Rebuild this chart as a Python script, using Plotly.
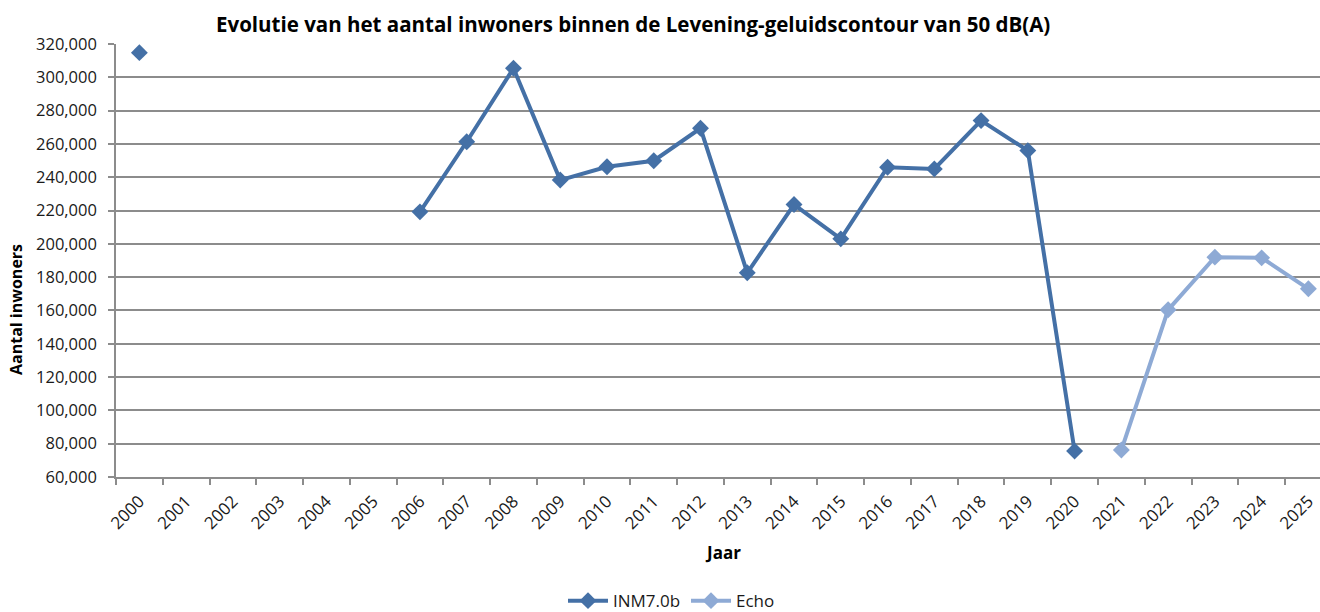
import plotly.graph_objects as go

# Years on the category axis
years = [str(y) for y in range(2000, 2026)]

# Inhabitants inside the 50 dB(A) contour, INM7.0b model (None = no value)
inm_values = [314800, None, None, None, None, None, 219200, 261300, 305400, 238300,
              246300, 249900, 269400, 182600, 223600, 203000, 246000, 245000, 274000,
              256000, 75600, None, None, None, None, None]

# Inhabitants inside the 50 dB(A) contour, Echo model
echo_values = [None] * 21 + [76200, 160400, 192000, 191600, 173000]

# Y axis tick values
y_ticks = list(range(60000, 320001, 20000))

INM_COLOR = "#4470a6"
ECHO_COLOR = "#8eaad5"
GRID = "#8c8c8c"
FONT = "Open Sans"

PLOT_W = 1320 - 116
PLOT_H = 612 - 44 - 135

fig = go.Figure()
fig.add_trace(go.Scatter(
    x=years, y=inm_values, name="INM7.0b", mode="lines+markers",
    line=dict(color=INM_COLOR, width=4),
    marker=dict(symbol="diamond", size=13, color=INM_COLOR),
    connectgaps=False, cliponaxis=False,
))
fig.add_trace(go.Scatter(
    x=years, y=echo_values, name="Echo", mode="lines+markers",
    line=dict(color=ECHO_COLOR, width=4),
    marker=dict(symbol="diamond", size=13, color=ECHO_COLOR),
    connectgaps=False, cliponaxis=False,
))

fig.update_layout(
    width=1320, height=612,
    margin=dict(l=116, r=0, t=44, b=135, autoexpand=False),
    paper_bgcolor="white", plot_bgcolor="white",
    font=dict(family=FONT, size=16, color="#1a1a1a"),
    showlegend=True,
    legend=dict(orientation="h", x=(563 - 116) / PLOT_W, xanchor="left", y=-0.245, yanchor="top",
                font=dict(size=17), itemwidth=40, tracegroupgap=0,
                entrywidth=68, entrywidthmode="pixels"),
)

fig.update_xaxes(
    type="category", categoryorder="array", categoryarray=years,
    range=[-0.5, 25.248], automargin=False,
    tickangle=-45, tickson="boundaries", ticks="outside", ticklen=6, tickwidth=1.5,
    tickcolor=GRID, showline=True, linecolor=GRID, linewidth=1.5,
    showgrid=False, tickfont=dict(size=17, family=FONT),
    ticklabelstandoff=6,
)
fig.update_yaxes(
    range=[60000, 320000], tickvals=y_ticks, tickformat=",", automargin=False,
    ticks="outside", ticklen=6, tickwidth=1.5, tickcolor=GRID,
    showline=True, linecolor=GRID, linewidth=1.5,
    showgrid=True, gridcolor=GRID, gridwidth=1.5, zeroline=False,
    tickfont=dict(size=16.5, family=FONT), ticklabelstandoff=8,
)

# Title and axis titles
fig.add_annotation(text="<b>Evolutie van het aantal inwoners binnen de Levening-geluidscontour van 50 dB(A)</b>",
                   xref="paper", yref="paper", x=(633 - 116) / PLOT_W, y=1,
                   xanchor="center", yanchor="bottom", yshift=4, showarrow=False,
                   font=dict(size=20.5, family=FONT, color="#000"))
fig.add_annotation(text="<b>Aantal inwoners</b>", xref="paper", yref="paper",
                   x=0, y=(477 - 310) / PLOT_H, xshift=-100, textangle=-90,
                   xanchor="center", yanchor="middle", showarrow=False,
                   font=dict(size=16, family=FONT, color="#000"))
fig.add_annotation(text="<b>Jaar</b>", xref="paper", yref="paper",
                   x=(723 - 116) / PLOT_W, y=0, yshift=-75,
                   xanchor="center", yanchor="middle", showarrow=False,
                   font=dict(size=17, family=FONT, color="#000"))

fig.write_html("out.html")
